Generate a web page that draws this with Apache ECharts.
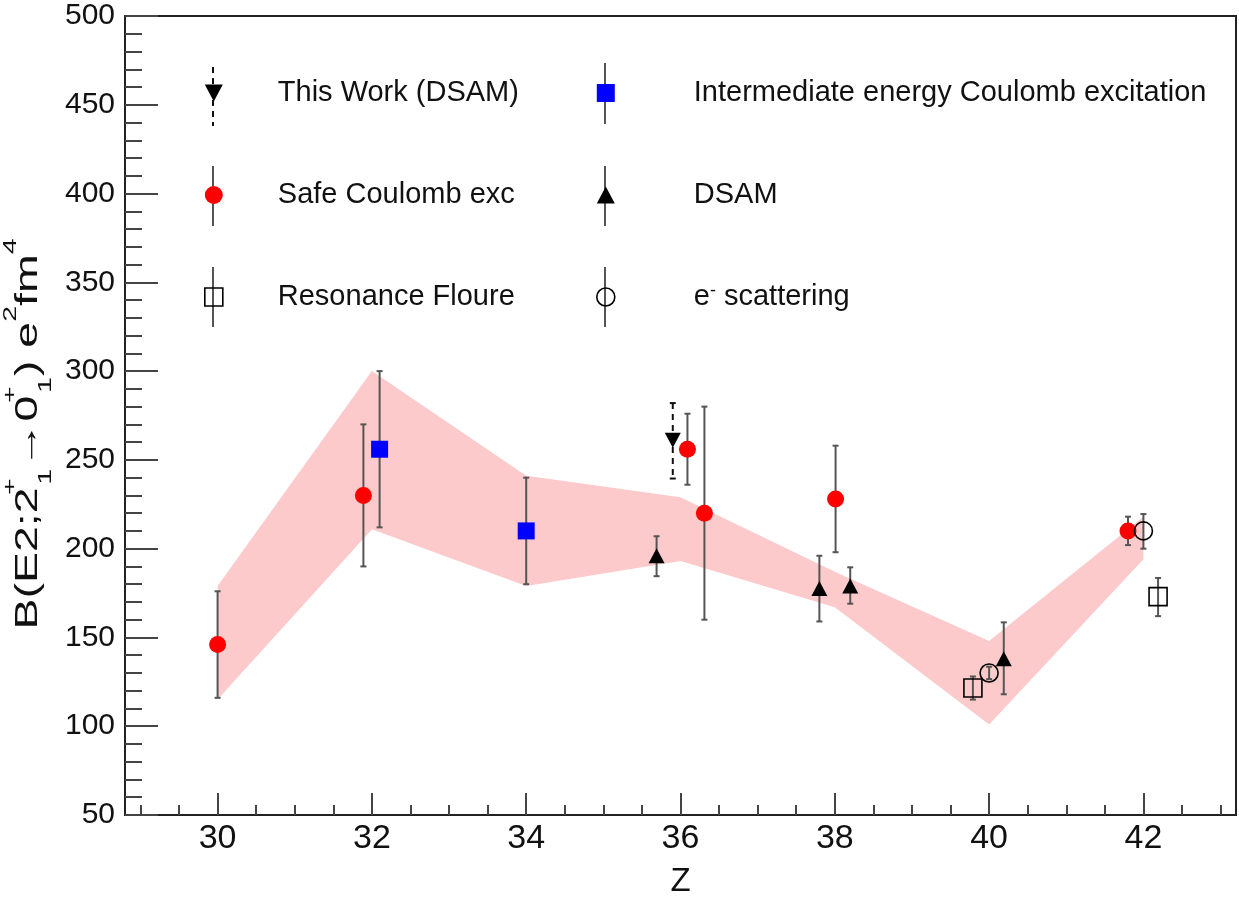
<!DOCTYPE html>
<html>
<head>
<meta charset="utf-8">
<script src="https://cdn.jsdelivr.net/npm/echarts@6/dist/echarts.min.js"></script>
<style>
  html, body { margin: 0; padding: 0; background: #fff; }
  #chart { width: 1239px; height: 903px; }
</style>
</head>
<body>
<div id="chart"></div>
<script>
const FONT = '"Liberation Sans", Arial, Helvetica, sans-serif';

// axis ticks
const xMajorTicks = [30, 32, 34, 36, 38, 40, 42];
const xMinorTicks = [29, 29.5, 30.5, 31, 31.5, 32.5, 33, 33.5, 34.5, 35, 35.5, 36.5, 37, 37.5,
  38.5, 39, 39.5, 40.5, 41, 41.5, 42.5, 43];

// shaded theory band: Z, lower edge, upper edge
const bandZ = [30, 32, 34, 36, 38, 40, 42];
const bandLow = [115, 211, 179, 193, 167, 101, 194];
const bandHigh = [179, 300, 241, 229, 187, 148, 218];

// measurements: [Z, B(E2), low end of error, high end of error]
const thisWork = [[35.9, 261, 239.5, 282]];
const safeCoulex = [[30, 146, 116, 176], [31.89, 230, 190, 270], [36.09, 256, 236, 276],
  [36.31, 220, 160, 280], [38.01, 228, 198, 258], [41.8, 210, 202, 218]];
const resonance = [[39.79, 121.5, 115, 128], [42.19, 173, 162, 183.5]];
const interCoulex = [[32.1, 256, 212, 300], [34, 210, 180, 240]];
const dsam = [[35.69, 196, 184.5, 207], [37.8, 177.5, 159, 196], [38.2, 179, 169, 189.5],
  [40.19, 138, 118, 158.5]];
const eScatter = [[40, 130, 126.5, 133.5], [42, 210, 200, 219.5]];

const hollow = { color: 'rgba(0,0,0,0)', borderColor: '#000', borderWidth: 1.6, opacity: 1 };

function errorBars(name, rows, dashed) {
  const color = dashed ? '#111' : '#555';
  return {
    type: 'custom',
    name,
    z: 2,
    silent: true,
    data: rows.map((r) => [r[0], r[2], r[3]]),
    encode: { x: 0, y: [1, 2] },
    renderItem(params, api) {
      const top = api.coord([api.value(0), api.value(2)]);
      const bot = api.coord([api.value(0), api.value(1)]);
      const cap = 3;
      return {
        type: 'group',
        children: [
          { type: 'line', shape: { x1: top[0], y1: top[1], x2: bot[0], y2: bot[1] },
            style: { stroke: color, lineWidth: 2, lineDash: dashed ? [6, 5] : null } },
          { type: 'line', shape: { x1: top[0] - cap, y1: top[1], x2: top[0] + cap, y2: top[1] },
            style: { stroke: color, lineWidth: 2 } },
          { type: 'line', shape: { x1: bot[0] - cap, y1: bot[1], x2: bot[0] + cap, y2: bot[1] },
            style: { stroke: color, lineWidth: 2 } },
        ],
      };
    },
  };
}

function markers(name, rows, symbol, size, itemStyle, extra) {
  return Object.assign({
    type: 'scatter',
    name,
    z: 3,
    symbol,
    symbolSize: size,
    itemStyle: Object.assign({ opacity: 1 }, itemStyle),
    emphasis: { disabled: true },
    data: rows.map((r) => [r[0], r[1]]),
  }, extra || {});
}

const legendText = {
  fontFamily: FONT, fontSize: 29, color: '#111', lineHeight: 30,
  rich: { t: { fontFamily: FONT, fontSize: 29, color: '#111' },
          sup: { fontFamily: FONT, fontSize: 18, color: '#111', verticalAlign: 'top', lineHeight: 18, padding: [0, 0, 8, 0] } },
};

// legend error-bar strokes (x, y1, y2, dashed)
const legendBars = [[213, 67, 126, true], [213, 166, 226, false], [213, 267, 327, false],
  [605, 63, 124, false], [605, 166, 226, false], [605, 267, 327, false]];

const chart = echarts.init(document.getElementById('chart'));
chart.setOption({
  animation: false,
  backgroundColor: '#fff',
  grid: { left: 125, right: 3, top: 16, bottom: 87, show: true, borderColor: '#222', borderWidth: 2 },
  xAxis: [
    {
      type: 'value', min: 28.8, max: 43.2, position: 'bottom',
      axisLine: { show: false }, splitLine: { show: false },
      axisTick: { show: true, inside: true, length: 22, customValues: xMajorTicks,
        lineStyle: { color: '#444', width: 2 } },
      axisLabel: { customValues: xMajorTicks, fontFamily: FONT, fontSize: 34, color: '#111', margin: 7 },
      name: 'Z', nameLocation: 'middle', nameGap: 50,
      nameTextStyle: { fontFamily: FONT, fontSize: 33, color: '#111' },
    },
    {
      type: 'value', min: 28.8, max: 43.2, position: 'bottom',
      axisLine: { show: false }, splitLine: { show: false },
      axisTick: { show: true, inside: true, length: 10, customValues: xMinorTicks,
        lineStyle: { color: '#444', width: 2 } },
      axisLabel: { show: false },
    },
  ],
  yAxis: {
    type: 'value', min: 50, max: 500, interval: 50,
    axisLine: { show: false }, splitLine: { show: false },
    axisTick: { inside: true, length: 33, lineStyle: { color: '#444', width: 2 } },
    minorTick: { show: true, splitNumber: 5, length: 17, lineStyle: { color: '#444', width: 2 } },
    axisLabel: { fontFamily: FONT, fontSize: 30, color: '#111', margin: 10 },
  },
  legend: [
    {
      orient: 'vertical', left: 204, top: 78, padding: 0, itemWidth: 18, itemHeight: 18, itemGap: 72,
      selectedMode: false,
      textStyle: Object.assign({ padding: [0, 0, 0, 50] }, legendText),
      data: [
        { name: 'This Work (DSAM)', icon: 'path://M0,0L16,0L8,15Z', itemStyle: { color: '#000' } },
        { name: 'Safe Coulomb exc', icon: 'circle', itemStyle: { color: '#ff0000' } },
        { name: 'Resonance Floure', icon: 'rect', itemStyle: hollow },
      ],
    },
    {
      orient: 'vertical', left: 596, top: 78, padding: 0, itemWidth: 18, itemHeight: 18, itemGap: 72,
      selectedMode: false,
      textStyle: Object.assign({ padding: [0, 0, 0, 74] }, legendText),
      formatter: (name) => (name === 'e- scattering' ? '{t|e}{sup|-}{t| scattering}' : name),
      data: [
        { name: 'Intermediate energy Coulomb excitation', icon: 'rect', itemStyle: { color: '#0000ff' } },
        { name: 'DSAM', icon: 'path://M8,0L16,15L0,15Z', itemStyle: { color: '#000' } },
        { name: 'e- scattering', icon: 'circle', itemStyle: hollow },
      ],
    },
  ],
  graphic: [
    ...legendBars.map((b) => ({
      type: 'line', z: 0, silent: true,
      shape: { x1: b[0], y1: b[1], x2: b[0], y2: b[2] },
      style: { stroke: b[3] ? '#111' : '#555', lineWidth: 2, lineDash: b[3] ? [6, 5] : null },
    })),
    {
      type: 'text', x: 28, y: 434, rotation: Math.PI / 2, scaleX: 1.5, z: 10, silent: true,
      style: {
        text: '{m|B(E2;2}{ps|+}{s|1}{m|→0}{ps|+}{s|1}{m|) e}{p|2}{m|fm}{p|4}',
        align: 'center', verticalAlign: 'middle',
        rich: {
          m: { fontFamily: FONT, fontSize: 31, lineHeight: 54, fill: '#111', verticalAlign: 'middle' },
          p: { fontFamily: FONT, fontSize: 19, lineHeight: 19, fill: '#111', verticalAlign: 'top' },
          ps: { fontFamily: FONT, fontSize: 19, lineHeight: 19, fill: '#111', verticalAlign: 'top', width: 1, align: 'left' },
          s: { fontFamily: FONT, fontSize: 19, lineHeight: 19, fill: '#111', verticalAlign: 'bottom', width: 12, align: 'left' },
        },
      },
    },
  ],
  series: [
    {
      type: 'custom', name: 'band', z: 1, silent: true,
      data: bandZ.map((z, i) => [z, bandLow[i], bandHigh[i]]),
      encode: { x: 0, y: [1, 2] },
      renderItem(params, api) {
        if (params.dataIndex !== 0) return null;
        const upper = bandZ.map((z, i) => api.coord([z, bandHigh[i]]));
        const lower = bandZ.map((z, i) => api.coord([z, bandLow[i]])).reverse();
        return { type: 'polygon', shape: { points: upper.concat(lower) }, style: { fill: '#fccaca' } };
      },
    },
    errorBars('err-this', thisWork, true),
    errorBars('err-safe', safeCoulex, false),
    errorBars('err-res', resonance, false),
    errorBars('err-inter', interCoulex, false),
    errorBars('err-dsam', dsam, false),
    errorBars('err-e', eScatter, false),
    markers('This Work (DSAM)', thisWork, 'triangle', [16, 15], { color: '#000' }, { symbolRotate: 180 }),
    markers('Safe Coulomb exc', safeCoulex, 'circle', 17, { color: '#ff0000' }),
    markers('Resonance Floure', resonance, 'rect', 18, hollow),
    markers('Intermediate energy Coulomb excitation', interCoulex, 'rect', 17, { color: '#0000ff' }),
    markers('DSAM', dsam, 'triangle', [16, 15], { color: '#000' }),
    markers('e- scattering', eScatter, 'circle', 18, hollow),
  ],
});
</script>
</body>
</html>
